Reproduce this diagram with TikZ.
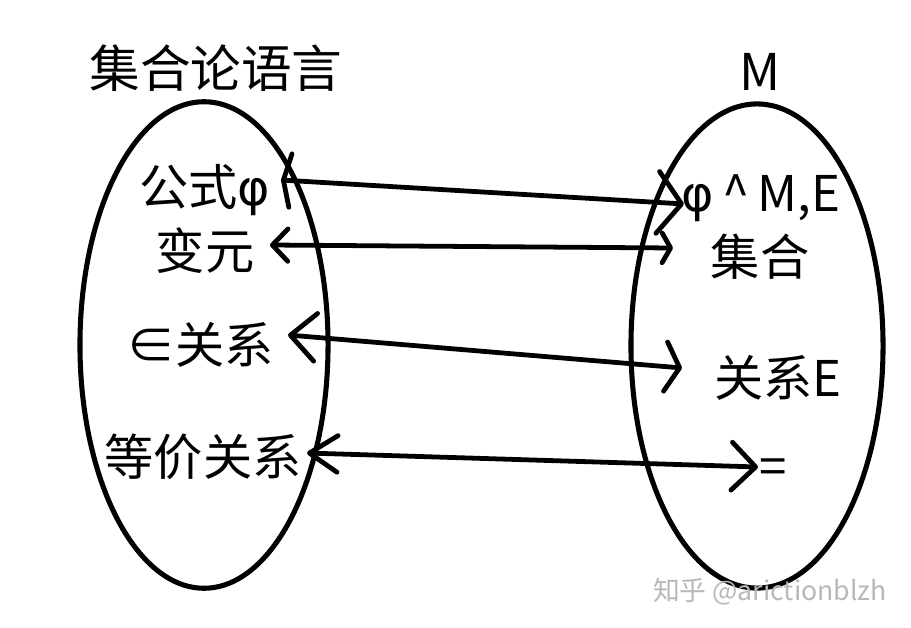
\documentclass[tikz,border=0pt]{standalone}
\usepackage{fontspec}
\setmainfont{Noto Sans CJK SC}
\newfontfamily\grk{DejaVu Sans}
\usetikzlibrary{arrows.meta}
\tikzset{
  lbl/.style={inner sep=0pt, font=\fontsize{35}{38}\selectfont},
  ttl/.style={inner sep=0pt, font=\fontsize{36}{40}\selectfont},
  wmark/.style={inner sep=0pt, text=black!28, font=\fontsize{19}{22}\selectfont},
  setshape/.style={draw, line width=3.6pt},
  link/.style={line width=3.4pt, line cap=round, line join=round},
}
\newcommand{\barb}[2]{Straight Barb[round, length=#1pt, width=#2pt]}
\begin{document}
\begin{tikzpicture}[x=0.025cm, y=-0.025cm]
\useasboundingbox (0,0) rectangle (911,628);
% titles
\node[ttl] (tl) at (216,68) {集合论语言};
\node[ttl] (tr) at (760,72) {M};
% sets
\draw[setshape] (204,345) ellipse [x radius=3.1cm, y radius=6.08cm];
\draw[setshape] (757,346) ellipse [x radius=3.15cm, y radius=6.05cm];
% left labels
\node[lbl] (phiL) at (205,190) {公式{\grk φ}};
\node[lbl] (varL) at (205,251) {变元};
\node[lbl] (inL)  at (200,345) {∈关系};
\node[lbl] (eqL)  at (203,457) {等价关系};
% right labels
\node[lbl] (phiR) at (761,198) {{\grk φ}\,\textasciicircum\,M,E};
\node[lbl] (setR) at (760,257) {集合};
\node[lbl] (relR) at (778,378) {关系E};
\node[lbl] (eqR)  at (773,472) {=};
% arrow ends
\coordinate (a1l) at (281,180); \coordinate (a1r) at (684,204);
\coordinate (a2l) at (270,245); \coordinate (a2r) at (673,248);
\coordinate (a3l) at (288,335); \coordinate (a3r) at (682,368);
\coordinate (a4l) at (307,453); \coordinate (a4r) at (758,467);
\draw[link, {\barb{5}{38}}-{\barb{17}{44}}] (a1l) -- (a1r);
\draw[link, {\barb{11}{23}}-{\barb{6}{21}}] (a2l) -- (a2r);
\draw[link, {\barb{18}{34}}-{\barb{10}{35}}] (a3l) -- (a3r);
\draw[link, {\barb{20}{26}}-{\barb{17}{34}}] (a4l) -- (a4r);
% watermark
\node[wmark] (wm) at (770,592) {知乎 @arictionblzh};
\end{tikzpicture}
\end{document}
